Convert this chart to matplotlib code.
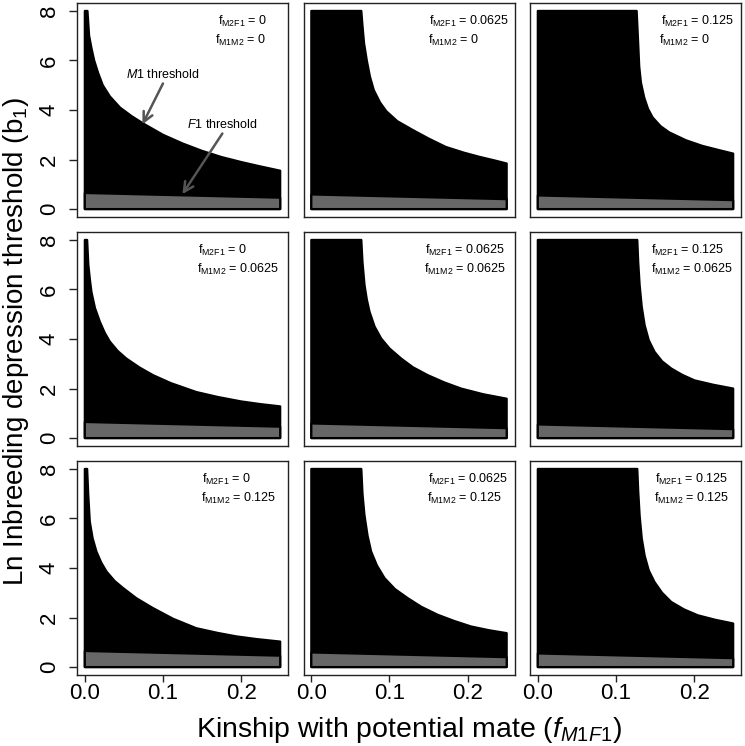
import matplotlib
matplotlib.use("Agg")
import matplotlib.pyplot as plt

plt.rcParams['font.family'] = ['Liberation Sans', 'DejaVu Sans']
plt.rcParams['mathtext.fontset'] = 'custom'
plt.rcParams['mathtext.rm'] = 'Liberation Sans'
plt.rcParams['mathtext.it'] = 'Liberation Sans:italic'
plt.rcParams['mathtext.bf'] = 'Liberation Sans:bold'

# kinship values shown in each panel
f_m2f1 = ['0', '0.0625', '0.125']      # columns
f_m1m2 = ['0', '0.0625', '0.125']      # rows

# M1 threshold curves (row, col)
m1_x_00 = [0, 0.0034, 0.0055, 0.0085, 0.012, 0.017, 0.023, 0.032, 0.045, 0.06, 0.075, 0.1, 0.125, 0.15, 0.175, 0.2, 0.225, 0.25]
m1_y_00 = [8, 8, 7.0, 6.5, 6.0, 5.5, 5.0, 4.55, 4.1, 3.75, 3.45, 3.0, 2.65, 2.35, 2.1, 1.9, 1.72, 1.55]
m1_x_01 = [0, 0.064, 0.0655, 0.0675, 0.071, 0.075, 0.08, 0.088, 0.096, 0.11, 0.13, 0.15, 0.172, 0.195, 0.215, 0.235, 0.25]
m1_y_01 = [8, 8, 7.4, 6.7, 6.0, 5.35, 4.8, 4.3, 3.95, 3.55, 3.19, 2.85, 2.51, 2.28, 2.11, 1.96, 1.84]
m1_x_02 = [0, 0.1265, 0.128, 0.1298, 0.132, 0.1362, 0.141, 0.1469, 0.157, 0.168, 0.1894, 0.2107, 0.232, 0.25]
m1_y_02 = [8, 8, 7.0, 5.75, 5.1, 4.5, 4.05, 3.7, 3.35, 3.1, 2.78, 2.55, 2.38, 2.24]
m1_x_10 = [0, 0.003, 0.0045, 0.0065, 0.0085, 0.013, 0.0192, 0.0255, 0.0319, 0.042, 0.0532, 0.07, 0.0873, 0.11, 0.1426, 0.17, 0.2, 0.225, 0.25]
m1_y_10 = [8, 8, 7.0, 6.4, 5.9, 5.25, 4.7, 4.25, 3.9, 3.52, 3.21, 2.85, 2.54, 2.22, 1.86, 1.66, 1.48, 1.37, 1.28]
m1_x_11 = [0, 0.064, 0.0655, 0.0681, 0.071, 0.0745, 0.081, 0.0894, 0.1, 0.115, 0.13, 0.149, 0.17, 0.1916, 0.22, 0.25]
m1_y_11 = [8, 8, 7.1, 6.18, 5.6, 5.1, 4.5, 4.02, 3.62, 3.21, 2.86, 2.54, 2.25, 2.0, 1.77, 1.59]
m1_x_12 = [0, 0.1273, 0.1285, 0.1303, 0.133, 0.1367, 0.142, 0.1494, 0.159, 0.1707, 0.185, 0.2005, 0.225, 0.25]
m1_y_12 = [8, 8, 7.1, 6.18, 5.3, 4.56, 3.95, 3.48, 3.1, 2.81, 2.55, 2.33, 2.15, 2.0]
m1_x_20 = [0, 0.003, 0.0045, 0.0064, 0.01, 0.0149, 0.021, 0.0277, 0.038, 0.049, 0.066, 0.0873, 0.113, 0.1426, 0.17, 0.1937, 0.22, 0.25]
m1_y_20 = [8, 8, 6.9, 5.87, 5.2, 4.66, 4.22, 3.86, 3.48, 3.19, 2.78, 2.38, 1.95, 1.57, 1.38, 1.24, 1.13, 1.03]
m1_x_21 = [0, 0.064, 0.0655, 0.068, 0.072, 0.0766, 0.084, 0.0937, 0.107, 0.1235, 0.141, 0.1618, 0.183, 0.2043, 0.227, 0.25]
m1_y_21 = [8, 8, 7.0, 6.14, 5.3, 4.66, 4.1, 3.59, 3.15, 2.78, 2.43, 2.11, 1.86, 1.64, 1.49, 1.37]
m1_x_22 = [0, 0.1273, 0.1285, 0.1303, 0.133, 0.1367, 0.142, 0.1494, 0.159, 0.1707, 0.187, 0.2048, 0.227, 0.25]
m1_y_22 = [8, 8, 7.1, 6.12, 5.2, 4.5, 3.9, 3.43, 3.0, 2.63, 2.33, 2.09, 1.91, 1.76]

# F1 threshold (straight line) at x = 0 and x = 0.25, per column
f1_x = [0, 0.25]
f1_left = [0.65, 0.59, 0.55]
f1_right = [0.46, 0.40, 0.36]

m1_curves = {
    (0, 0): (m1_x_00, m1_y_00), (0, 1): (m1_x_01, m1_y_01), (0, 2): (m1_x_02, m1_y_02),
    (1, 0): (m1_x_10, m1_y_10), (1, 1): (m1_x_11, m1_y_11), (1, 2): (m1_x_12, m1_y_12),
    (2, 0): (m1_x_20, m1_y_20), (2, 1): (m1_x_21, m1_y_21), (2, 2): (m1_x_22, m1_y_22),
}

# layout (pixels of a 745x746 canvas)
W, H = 745, 746
col_left = [77, 303.5, 530]
row_bottom = [217, 446, 675]
ax_w, ax_h = 211, 214
# left edge of the f-labels (axes fraction), line 1 / line 2
lab_x = [[(0.667, 0.656), (0.596, 0.592), (0.619, 0.613)],
         [(0.575, 0.567), (0.576, 0.572), (0.575, 0.575)],
         [(0.594, 0.586), (0.591, 0.586), (0.591, 0.586)]]

fig = plt.figure(figsize=(W / 100, H / 100), dpi=100)

for r in range(3):
    for c in range(3):
        ax = fig.add_axes([col_left[c] / W, 1 - row_bottom[r] / H, ax_w / W, ax_h / H])
        xs, ys = m1_curves[(r, c)]
        px = [0] + list(xs) + [xs[-1], 0]
        py = [0] + list(ys) + [0, 0]
        ax.fill(px, py, facecolor='black', edgecolor='black', lw=1.6, joinstyle='round')
        gx = [0, f1_x[0], f1_x[1], f1_x[1], 0]
        gy = [0, f1_left[c], f1_right[c], 0, 0]
        ax.fill(gx, gy, facecolor='#676767', edgecolor='black', lw=1.6, joinstyle='round')

        ax.set_xlim(-0.01, 0.26)
        ax.set_ylim(-0.32, 8.32)
        for s in ax.spines.values():
            s.set_linewidth(1.0)
            s.set_color('#222222')

        if r == 2:
            ax.set_xticks([0, 0.1, 0.2])
            ax.set_xticklabels(['0.0', '0.1', '0.2'])
            ax.tick_params(axis='x', labelsize=16, length=5, width=1, pad=1, color='#222222')
        else:
            ax.set_xticks([])
        if c == 0:
            ax.set_yticks([0, 2, 4, 6, 8])
            ax.set_yticklabels(['0', '2', '4', '6', '8'], rotation=90, va='center')
            ax.tick_params(axis='y', labelsize=16, length=5.5, width=1, pad=7, color='#222222')
        else:
            ax.set_yticks([])

        l1, l2 = lab_x[r][c]
        ax.text(l1, 0.916, r'$\mathrm{f_{M2F1}}$ = ' + f_m2f1[c], transform=ax.transAxes,
                fontsize=9, ha='left', va='center')
        ax.text(l2, 0.825, r'$\mathrm{f_{M1M2}}$ = ' + f_m1m2[r], transform=ax.transAxes,
                fontsize=9, ha='left', va='center')

        if r == 0 and c == 0:
            ax.annotate('', xy=(0.0737, 3.42), xytext=(0.1, 5.07),
                        arrowprops=dict(arrowstyle='->,head_length=0.7,head_width=0.35',
                                        color='#555555', lw=1.8, shrinkA=0, shrinkB=0))
            ax.text(0.0996, 5.44, r'$M$1 threshold', fontsize=9, ha='center', va='center')
            ax.annotate('', xy=(0.1248, 0.60), xytext=(0.176, 3.05),
                        arrowprops=dict(arrowstyle='->,head_length=0.7,head_width=0.35',
                                        color='#555555', lw=1.8, shrinkA=0, shrinkB=0))
            ax.text(0.1756, 3.43, r'$F$1 threshold', fontsize=9, ha='center', va='center')

fig.text(409 / W, 1 - 737 / H, r'Kinship with potential mate ($f_{M1F1}$)',
         fontsize=20.5, ha='center', va='baseline')
fig.text(23 / W, 1 - 342 / H, r'Ln Inbreeding depression threshold (b$_1$)',
         fontsize=20, ha='center', va='baseline', rotation=90, rotation_mode='anchor')

fig.savefig('out.png', dpi=100)
